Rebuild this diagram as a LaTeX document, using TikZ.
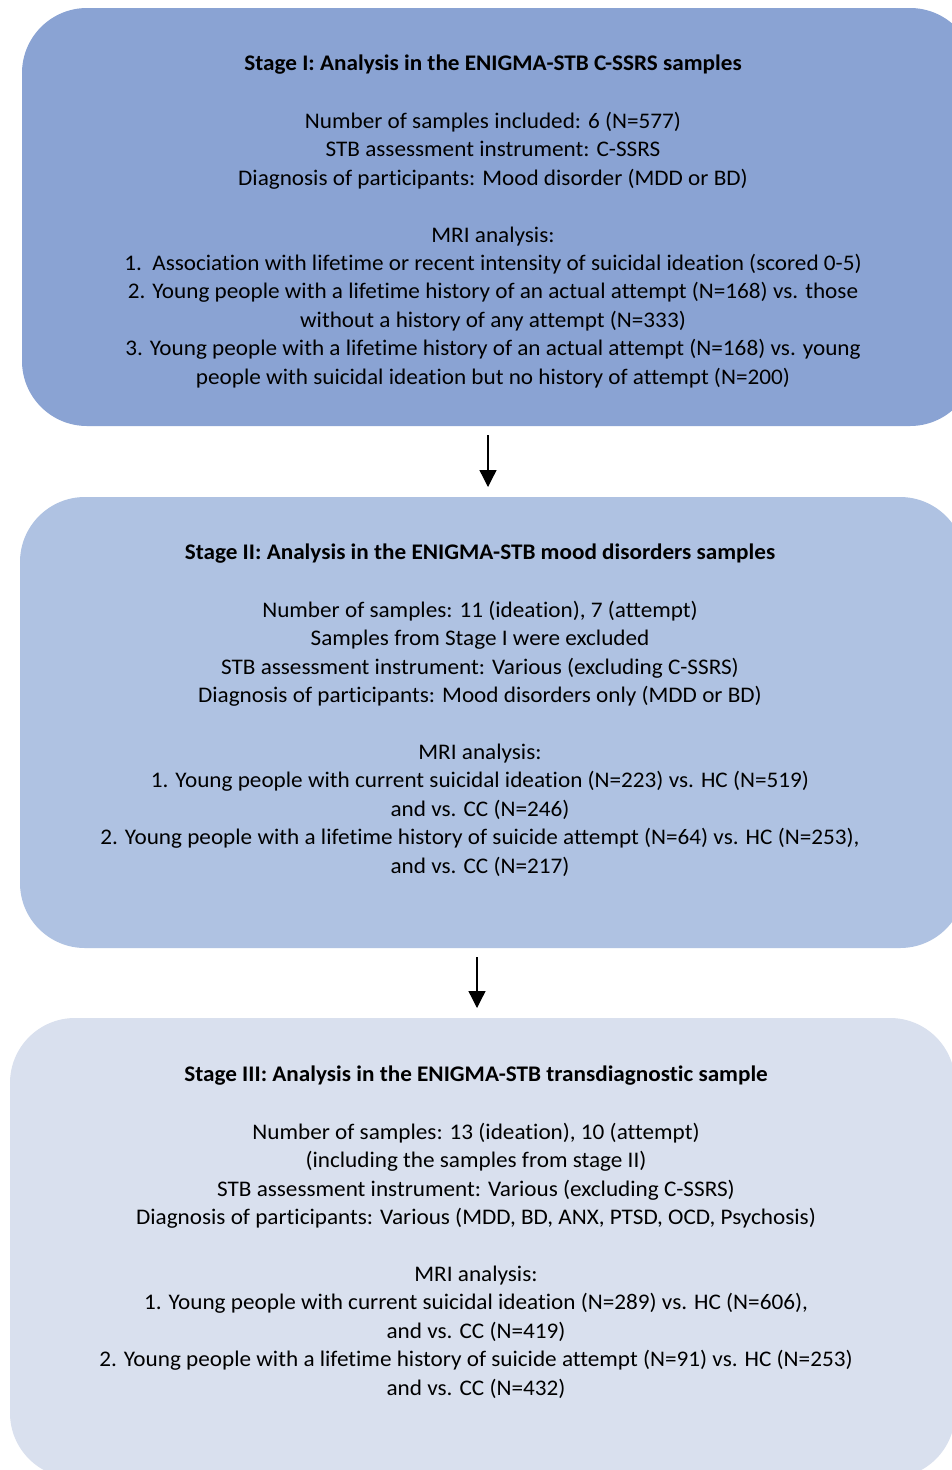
\documentclass[tikz,border=0pt]{standalone}
\usepackage{fontspec}
\setmainfont{Carlito}[Ligatures=NoCommon, FakeStretch=1.04]
\usetikzlibrary{arrows.meta,calc}
\definecolor{cone}{HTML}{8AA3D3}
\definecolor{ctwo}{HTML}{AFC2E2}
\definecolor{cthree}{HTML}{D9E0EE}
\begin{document}
\begin{tikzpicture}[x=1pt,y=1pt,
  stagebox/.style={rounded corners=65pt, inner sep=0pt, outer sep=0pt, anchor=north west},
  stagetext/.style={align=center, inner sep=0pt, anchor=north, font=\fontsize{22.3}{28.4}\selectfont, text=black},
  flowarrow/.style={line width=1.3pt, -{Triangle[width=17pt,length=17pt]}}]
\useasboundingbox (0,0) rectangle (952,-1470);
\clip (0,0) rectangle (952,-1470);
\fill[white] (0,0) rectangle (952,-1470);

\node[stagebox, fill=cone, minimum width=953pt, minimum height=418pt] (b1) at (22,-8) {};
\node[stagebox, fill=ctwo, minimum width=945pt, minimum height=451pt] (b2) at (20,-497) {};
\node[stagebox, fill=cthree, minimum width=945pt, minimum height=460pt] (b3) at (10,-1018) {};

\node[stagetext] (t1) at (493,-54.3) {%
{\bfseries Stage I: Analysis in the ENIGMA-STB C-SSRS samples}\\[29.9pt]
Number of samples included: 6 (N=577)\\
STB assessment instrument: C-SSRS\\
Diagnosis of participants: Mood disorder (MDD or BD)\\[28.4pt]
MRI analysis:\\
1.\ \ Association with lifetime or recent intensity of suicidal ideation (scored 0-5)\\
2. Young people with a lifetime history of an actual attempt (N=168) vs. those\\
without a history of any attempt (N=333)\\
3. Young people with a lifetime history of an actual attempt (N=168) vs. young\\
people with suicidal ideation but no history of attempt (N=200)};

\node[stagetext] (t2) at (480,-543.3) {%
{\bfseries Stage II: Analysis in the ENIGMA-STB mood disorders samples}\\[29.9pt]
Number of samples: 11 (ideation), 7 (attempt)\\
Samples from Stage I were excluded\\
STB assessment instrument: Various (excluding C-SSRS)\\
Diagnosis of participants: Mood disorders only (MDD or BD)\\[28.4pt]
MRI analysis:\\
1. Young people with current suicidal ideation (N=223) vs. HC (N=519)\\
and vs. CC (N=246)\\
2. Young people with a lifetime history of suicide attempt (N=64) vs. HC (N=253),\\
and vs. CC (N=217)};

\node[stagetext] (t3) at (476,-1065.3) {%
{\bfseries Stage III: Analysis in the ENIGMA-STB transdiagnostic sample}\\[29.9pt]
Number of samples: 13 (ideation), 10 (attempt)\\
(including the samples from stage II)\\
STB assessment instrument: Various (excluding C-SSRS)\\
Diagnosis of participants: Various (MDD, BD, ANX, PTSD, OCD, Psychosis)\\[28.4pt]
MRI analysis:\\
1. Young people with current suicidal ideation (N=289) vs. HC (N=606),\\
and vs. CC (N=419)\\
2. Young people with a lifetime history of suicide attempt (N=91) vs. HC (N=253)\\
and vs. CC (N=432)};

\coordinate (xa) at (488,0);
\coordinate (xb) at (477,0);
\draw[flowarrow] ([yshift=-9pt]b1.south -| xa) -- ([yshift=10pt]b2.north -| xa);
\draw[flowarrow] ([yshift=-9pt]b2.south -| xb) -- ([yshift=10pt]b3.north -| xb);
\end{tikzpicture}
\end{document}
